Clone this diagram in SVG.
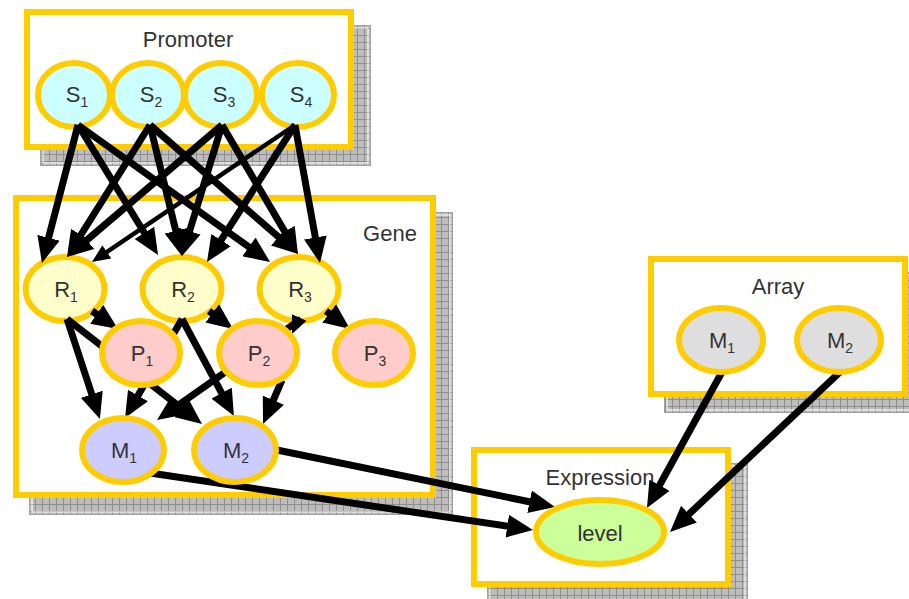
<svg xmlns="http://www.w3.org/2000/svg" width="909" height="599" viewBox="0 0 909 599">
<style>
.box{fill:#ffffff;stroke:#ffcc00;stroke-width:6}
.sh{fill:url(#grid);stroke:#a0a0a0;stroke-width:1}
.shi{fill:none;stroke:#ffffff;stroke-width:1}
.nd{stroke:#ffcc00;stroke-width:6}
.s{fill:#ccffff}.r{fill:#ffffcc}.p{fill:#ffcccc}.m{fill:#ccccff}.a{fill:#dedede}.l{fill:#ccff99}
text{font-family:"Liberation Sans",Arial,sans-serif;fill:#333333;font-size:22px;text-anchor:middle}
.sub{font-size:14px}
.c line{stroke:#000;stroke-width:7}
.c line.t{stroke-width:4.5}
</style>
<defs>
<pattern id="grid" width="7" height="7" patternUnits="userSpaceOnUse">
<rect width="7" height="7" fill="#bdbdbd"/>
<path d="M0 0.5H7M0.5 0V7" stroke="#8e8e8e" stroke-width="1"/>
</pattern>
<marker id="ah" markerUnits="userSpaceOnUse" markerWidth="26" markerHeight="23" refX="16" refY="11.5" orient="auto">
<path d="M0,0 L26,11.5 L0,23 z" fill="#000"/>
</marker>
<marker id="ahs" markerUnits="userSpaceOnUse" markerWidth="18" markerHeight="16" refX="10" refY="8" orient="auto">
<path d="M0,0 L18,8 L0,16 z" fill="#000"/>
</marker>
</defs>

<g id="promoter-box">
<rect class="sh" x="40.5" y="25.5" width="330" height="140"/>
<rect class="shi" x="43" y="28" width="325" height="135"/>
<rect class="box" x="27" y="12" width="324" height="135"/>
<text x="188" y="47">Promoter</text>
</g>
<g id="gene-box">
<rect class="sh" x="29.5" y="212.5" width="423" height="302"/>
<rect class="shi" x="32" y="215" width="418" height="297"/>
<rect class="box" x="16" y="198" width="417" height="297"/>
<text x="390" y="241">Gene</text>
</g>
<g id="array-box">
<rect class="sh" x="664.5" y="272.5" width="260" height="140"/>
<rect class="shi" x="667" y="275" width="255" height="135"/>
<rect class="box" x="651" y="259" width="254" height="135"/>
<text x="778" y="294">Array</text>
</g>
<g id="expression-box">
<rect class="sh" x="487.5" y="463.5" width="260" height="140"/>
<rect class="shi" x="490" y="466" width="255" height="135"/>
<rect class="box" x="474" y="450" width="254" height="134"/>
<text x="600" y="485">Expression</text>
</g>

<g id="S1"><ellipse class="nd s" cx="74" cy="95" rx="36" ry="32"/><text x="77" y="102">S<tspan class="sub" dy="5">1</tspan></text></g>
<g id="S2"><ellipse class="nd s" cx="148" cy="95" rx="36" ry="32"/><text x="151" y="102">S<tspan class="sub" dy="5">2</tspan></text></g>
<g id="S3"><ellipse class="nd s" cx="221" cy="95" rx="36" ry="32"/><text x="224" y="102">S<tspan class="sub" dy="5">3</tspan></text></g>
<g id="S4"><ellipse class="nd s" cx="298" cy="95" rx="36" ry="32"/><text x="301" y="102">S<tspan class="sub" dy="5">4</tspan></text></g>

<g id="R1"><ellipse class="nd r" cx="65" cy="289" rx="39.5" ry="32"/><text x="66" y="297">R<tspan class="sub" dy="5">1</tspan></text></g>
<g id="R2"><ellipse class="nd r" cx="182" cy="289" rx="39.5" ry="32"/><text x="183" y="297">R<tspan class="sub" dy="5">2</tspan></text></g>
<g id="R3"><ellipse class="nd r" cx="299" cy="289" rx="39.5" ry="32"/><text x="300" y="297">R<tspan class="sub" dy="5">3</tspan></text></g>

<g id="connectors" class="c">
<line x1="78" y1="125" x2="44.5" y2="253.3" marker-end="url(#ah)"/>
<line x1="78" y1="125" x2="152.8" y2="246.5" marker-end="url(#ah)"/>
<line x1="78" y1="125" x2="261.9" y2="256.2" marker-end="url(#ah)"/>
<line x1="150" y1="125" x2="72.3" y2="248.5" marker-end="url(#ah)"/>
<line x1="150" y1="125" x2="179.6" y2="246.3" marker-end="url(#ah)"/>
<line x1="150" y1="125" x2="290.5" y2="247.4" marker-end="url(#ah)"/>
<line x1="222" y1="125" x2="74.6" y2="250.5" marker-end="url(#ah)"/>
<line x1="222" y1="125" x2="184.9" y2="246.4" marker-end="url(#ah)"/>
<line x1="222" y1="125" x2="292.9" y2="245.4" marker-end="url(#ah)"/>
<line class="t" x1="295" y1="125" x2="98.6" y2="257.5" marker-end="url(#ahs)"/>
<line x1="295" y1="125" x2="212.4" y2="253.6" marker-end="url(#ah)"/>
<line x1="295" y1="125" x2="318.2" y2="253.2" marker-end="url(#ah)"/>
<line x1="92" y1="311" x2="109.8" y2="323.3" marker-end="url(#ah)"/>
<line x1="67" y1="319" x2="96.8" y2="409.5" marker-end="url(#ah)"/>
<line x1="67" y1="319" x2="194.1" y2="417.9" marker-end="url(#ah)"/>
<line x1="209" y1="311" x2="225" y2="323" marker-end="url(#ah)"/>
<line x1="182" y1="319" x2="130" y2="409.4" marker-end="url(#ah)"/>
<line x1="182" y1="319" x2="229.2" y2="407.2" marker-end="url(#ah)"/>
<line x1="299" y1="318" x2="295.2" y2="326.6" marker-end="url(#ahs)"/>
<line x1="301" y1="319" x2="165.2" y2="414.3" marker-end="url(#ah)"/>
<line x1="326" y1="311" x2="342" y2="323" marker-end="url(#ah)"/>
<line x1="282" y1="380" x2="267" y2="414.8" marker-end="url(#ah)"/>
<line x1="150" y1="473" x2="523.1" y2="528.5" marker-end="url(#ah)"/>
<line x1="272" y1="449" x2="545.2" y2="505" marker-end="url(#ah)"/>
<line x1="722" y1="372" x2="651.8" y2="499.2" marker-end="url(#ah)"/>
<line x1="840" y1="372" x2="677.3" y2="525.1" marker-end="url(#ah)"/>
</g>

<g id="P1"><ellipse class="nd p" cx="141" cy="353" rx="39" ry="32"/><text x="142" y="361">P<tspan class="sub" dy="5">1</tspan></text></g>
<g id="P2"><ellipse class="nd p" cx="258" cy="353" rx="39" ry="32"/><text x="259" y="361">P<tspan class="sub" dy="5">2</tspan></text></g>
<g id="P3"><ellipse class="nd p" cx="374" cy="353" rx="39" ry="32"/><text x="375" y="361">P<tspan class="sub" dy="5">3</tspan></text></g>

<g id="M1"><ellipse class="nd m" cx="123" cy="450" rx="41" ry="32"/><text x="124" y="458">M<tspan class="sub" dy="5">1</tspan></text></g>
<g id="M2"><ellipse class="nd m" cx="235" cy="450" rx="41" ry="32"/><text x="236" y="458">M<tspan class="sub" dy="5">2</tspan></text></g>

<g id="array-M1"><ellipse class="nd a" cx="721" cy="340" rx="42" ry="32"/><text x="722" y="348">M<tspan class="sub" dy="5">1</tspan></text></g>
<g id="array-M2"><ellipse class="nd a" cx="839" cy="340" rx="42" ry="32"/><text x="840" y="348">M<tspan class="sub" dy="5">2</tspan></text></g>

<g id="level"><ellipse class="nd l" cx="600" cy="532" rx="64" ry="32"/><text x="600" y="541">level</text></g>
</svg>
